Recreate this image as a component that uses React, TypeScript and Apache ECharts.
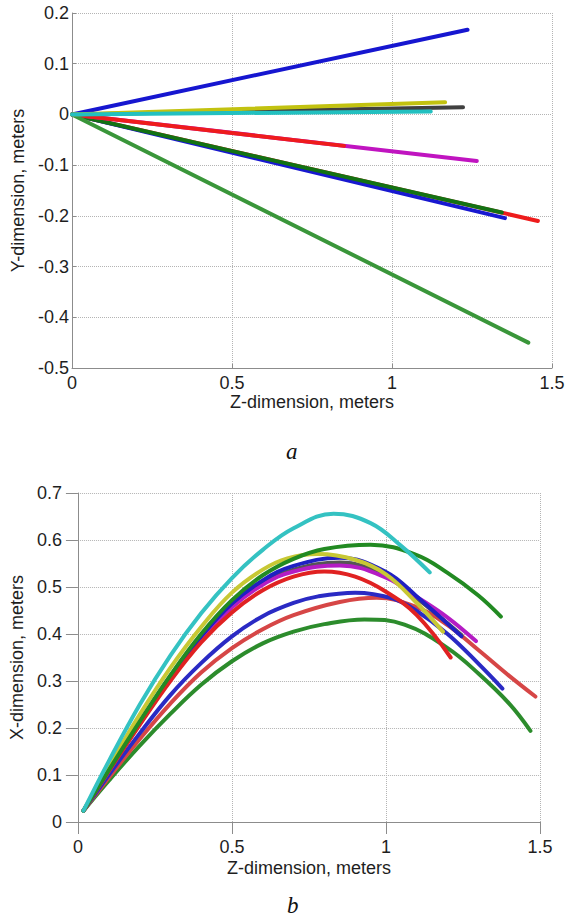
import React, { useEffect, useRef } from "react";
import * as echarts from "echarts";

// ---------- Chart a: Y vs Z (straight lines from origin) ----------
const yzBlueUp = [[0, 0], [1.236, 0.167]];
const yzYellow = [[0, 0], [1.166, 0.024]];
const yzDark = [[0, 0], [1.222, 0.014]];
const yzCyan = [[0, 0], [1.121, 0.006]];
const yzMagenta = [[0, 0], [1.265, -0.092]];
const yzRedShort = [[0, 0], [0.85, -0.062]];
const yzRedLong = [[0, 0], [1.456, -0.21]];
const yzDarkGreen = [[0, 0], [1.343, -0.1935]];
const yzBlueDown = [[0, 0], [1.353, -0.2045]];
const yzGreenLong = [[0, 0], [1.426, -0.45]];

// ---------- Chart b: X vs Z (trajectories) ----------
const xzGreenLow = [[0.018, 0.024], [0.1, 0.088], [0.2, 0.162], [0.3, 0.23], [0.4, 0.292], [0.5, 0.342], [0.6, 0.38], [0.7, 0.405], [0.8, 0.421], [0.93, 0.431], [1.06, 0.42], [1.2, 0.37], [1.3, 0.316], [1.4, 0.252], [1.469, 0.194]];
const xzRedLow = [[0.018, 0.024], [0.1, 0.094], [0.2, 0.176], [0.3, 0.252], [0.4, 0.318], [0.5, 0.37], [0.6, 0.41], [0.7, 0.44], [0.85, 0.468], [0.97, 0.477], [1.1, 0.457], [1.2, 0.419], [1.3, 0.366], [1.4, 0.311], [1.485, 0.267]];
const xzBlueLow = [[0.018, 0.024], [0.1, 0.1], [0.2, 0.188], [0.3, 0.27], [0.4, 0.338], [0.5, 0.395], [0.6, 0.438], [0.7, 0.466], [0.78, 0.48], [0.9, 0.488], [1.02, 0.476], [1.1, 0.449], [1.2, 0.4], [1.3, 0.337], [1.378, 0.284]];
const xzDark = [[0.018, 0.024], [0.1, 0.109], [0.2, 0.21], [0.3, 0.306], [0.4, 0.39], [0.5, 0.46], [0.6, 0.508], [0.7, 0.537], [0.85, 0.552], [1.0, 0.524], [1.1, 0.476], [1.245, 0.398]];
const xzMagenta = [[0.018, 0.024], [0.1, 0.108], [0.2, 0.208], [0.3, 0.304], [0.4, 0.388], [0.5, 0.457], [0.6, 0.505], [0.7, 0.533], [0.85, 0.546], [1.0, 0.52], [1.1, 0.479], [1.2, 0.435], [1.292, 0.385]];
const xzBlueUp = [[0.018, 0.024], [0.1, 0.11], [0.2, 0.212], [0.3, 0.31], [0.4, 0.395], [0.5, 0.465], [0.6, 0.514], [0.7, 0.545], [0.85, 0.562], [1.0, 0.532], [1.1, 0.48], [1.245, 0.395]];
const xzRedUp = [[0.018, 0.024], [0.1, 0.108], [0.2, 0.206], [0.3, 0.3], [0.4, 0.382], [0.5, 0.446], [0.6, 0.493], [0.7, 0.522], [0.8, 0.533], [0.9, 0.522], [1.0, 0.49], [1.1, 0.44], [1.21, 0.35]];
const xzYellow = [[0.018, 0.024], [0.1, 0.118], [0.2, 0.228], [0.3, 0.328], [0.4, 0.415], [0.5, 0.488], [0.6, 0.537], [0.68, 0.561], [0.78, 0.57], [0.9, 0.558], [1.0, 0.527], [1.1, 0.466], [1.185, 0.405]];
const xzGreenTop = [[0.018, 0.024], [0.1, 0.11], [0.2, 0.213], [0.3, 0.312], [0.4, 0.4], [0.5, 0.472], [0.6, 0.525], [0.7, 0.56], [0.8, 0.581], [0.95, 0.59], [1.1, 0.568], [1.2, 0.53], [1.3, 0.482], [1.373, 0.437]];
const xzCyan = [[0.018, 0.024], [0.1, 0.129], [0.2, 0.249], [0.3, 0.354], [0.4, 0.444], [0.5, 0.519], [0.6, 0.579], [0.7, 0.625], [0.83, 0.656], [0.95, 0.636], [1.05, 0.587], [1.142, 0.531]];

// ---------- Axis / text ----------
const zTicks = { min: 0, max: 1.5, interval: 0.5 };
const yTicksA = { min: -0.5, max: 0.2, interval: 0.1 };
const xTicksB = { min: 0, max: 0.7, interval: 0.1 };
const zAxisName = "Z-dimension, meters";
const yAxisNameA = "Y-dimension, meters";
const xAxisNameB = "X-dimension, meters";
const captions = ["a", "b"];

const FONT = "'Liberation Sans', Arial, sans-serif";
const TXT = "#1e1e1e";
const AX = "#8c8c8c";
const GRID = "#b4b4b4";

export default function App() {
  const ref = useRef<HTMLDivElement>(null);
  useEffect(() => {
    if (!ref.current) return;
    const chart = echarts.init(ref.current, undefined, { renderer: "svg" });

    const line = (data: number[][], color: string, xi: number, smooth: boolean, width = 4) => ({
      type: "line",
      xAxisIndex: xi,
      yAxisIndex: xi,
      data,
      smooth: smooth ? 0.4 : false,
      showSymbol: false,
      symbol: "none",
      silent: true,
      lineStyle: { color, width, cap: "round", join: "round" },
      z: 3,
    });

    const xAxisBase = (gi: number, nameGap: number, margin: number, tickInside: boolean, tickLen: number) => ({
      type: "value",
      gridIndex: gi,
      ...zTicks,
      name: zAxisName,
      nameLocation: "middle",
      nameGap,
      nameTextStyle: { fontSize: 18, color: TXT, fontFamily: FONT },
      axisLine: { show: true, onZero: false, lineStyle: { color: AX, width: 1 } },
      axisTick: { show: true, inside: tickInside, length: tickLen, lineStyle: { color: AX } },
      axisLabel: { margin, fontSize: 18, color: TXT, fontFamily: FONT, showMinLabel: true, showMaxLabel: true },
      splitLine: { show: true, lineStyle: { type: "dotted", color: GRID, width: 1 } },
    });

    const yAxisBase = (gi: number, ticks: any, name: string, nameGap: number, margin: number, tickInside: boolean, tickLen: number) => ({
      type: "value",
      gridIndex: gi,
      ...ticks,
      name,
      nameLocation: "middle",
      nameGap,
      nameTextStyle: { fontSize: 18, color: TXT, fontFamily: FONT },
      axisLine: { show: true, onZero: false, lineStyle: { color: AX, width: 1 } },
      axisTick: { show: true, inside: tickInside, length: tickLen, lineStyle: { color: AX } },
      axisLabel: { margin, fontSize: 18, color: TXT, fontFamily: FONT, showMinLabel: true, showMaxLabel: true },
      splitLine: { show: true, lineStyle: { type: "dotted", color: GRID, width: 1 } },
    });

    chart.setOption({
      animation: false,
      backgroundColor: "#ffffff",
      grid: [
        { left: 72, top: 13, width: 480, height: 355 },
        { left: 73, top: 493, width: 467, height: 329 },
      ],
      xAxis: [xAxisBase(0, 22, 6, true, 4), xAxisBase(1, 37, 16, false, 12)],
      yAxis: [
        yAxisBase(0, yTicksA, yAxisNameA, 31, 3, true, 4),
        yAxisBase(1, xTicksB, xAxisNameB, 43, 16, false, 12),
      ],
      series: [
        line(yzRedLong, "#ee1c1c", 0, false),
        line(yzBlueDown, "#1818d0", 0, false),
        line(yzDarkGreen, "#137213", 0, false),
        line(yzMagenta, "#c014c0", 0, false),
        line(yzRedShort, "#ee1c1c", 0, false),
        line(yzGreenLong, "#3a963a", 0, false),
        line(yzBlueUp, "#1616d0", 0, false),
        line(yzDark, "#404040", 0, false),
        line(yzYellow, "#c2c210", 0, false),
        line(yzCyan, "#22c0c0", 0, false),

        line(xzGreenLow, "#2c8c2c", 1, true),
        line(xzRedLow, "#d64646", 1, true),
        line(xzBlueLow, "#2a2ac4", 1, true),
        line(xzDark, "#555555", 1, true),
        line(xzMagenta, "#b41cc4", 1, true),
        line(xzBlueUp, "#2020c2", 1, true),
        line(xzRedUp, "#e02222", 1, true),
        line(xzYellow, "#c8c834", 1, true),
        line(xzGreenTop, "#228a22", 1, true),
        line(xzCyan, "#34c2c2", 1, true),
      ],
      graphic: [
        {
          type: "text",
          left: 286,
          top: 440,
          style: { text: captions[0], fontSize: 23, fontStyle: "italic", fontFamily: "'Liberation Serif', 'Times New Roman', serif", fill: "#111" },
        },
        {
          type: "text",
          left: 287,
          top: 894,
          style: { text: captions[1], fontSize: 23, fontStyle: "italic", fontFamily: "'Liberation Serif', 'Times New Roman', serif", fill: "#111" },
        },
      ],
    });
    return () => chart.dispose();
  }, []);

  return <div ref={ref} style={{ position: "absolute", left: 0, top: 0, width: 575, height: 923, background: "#fff" }} />;
}
